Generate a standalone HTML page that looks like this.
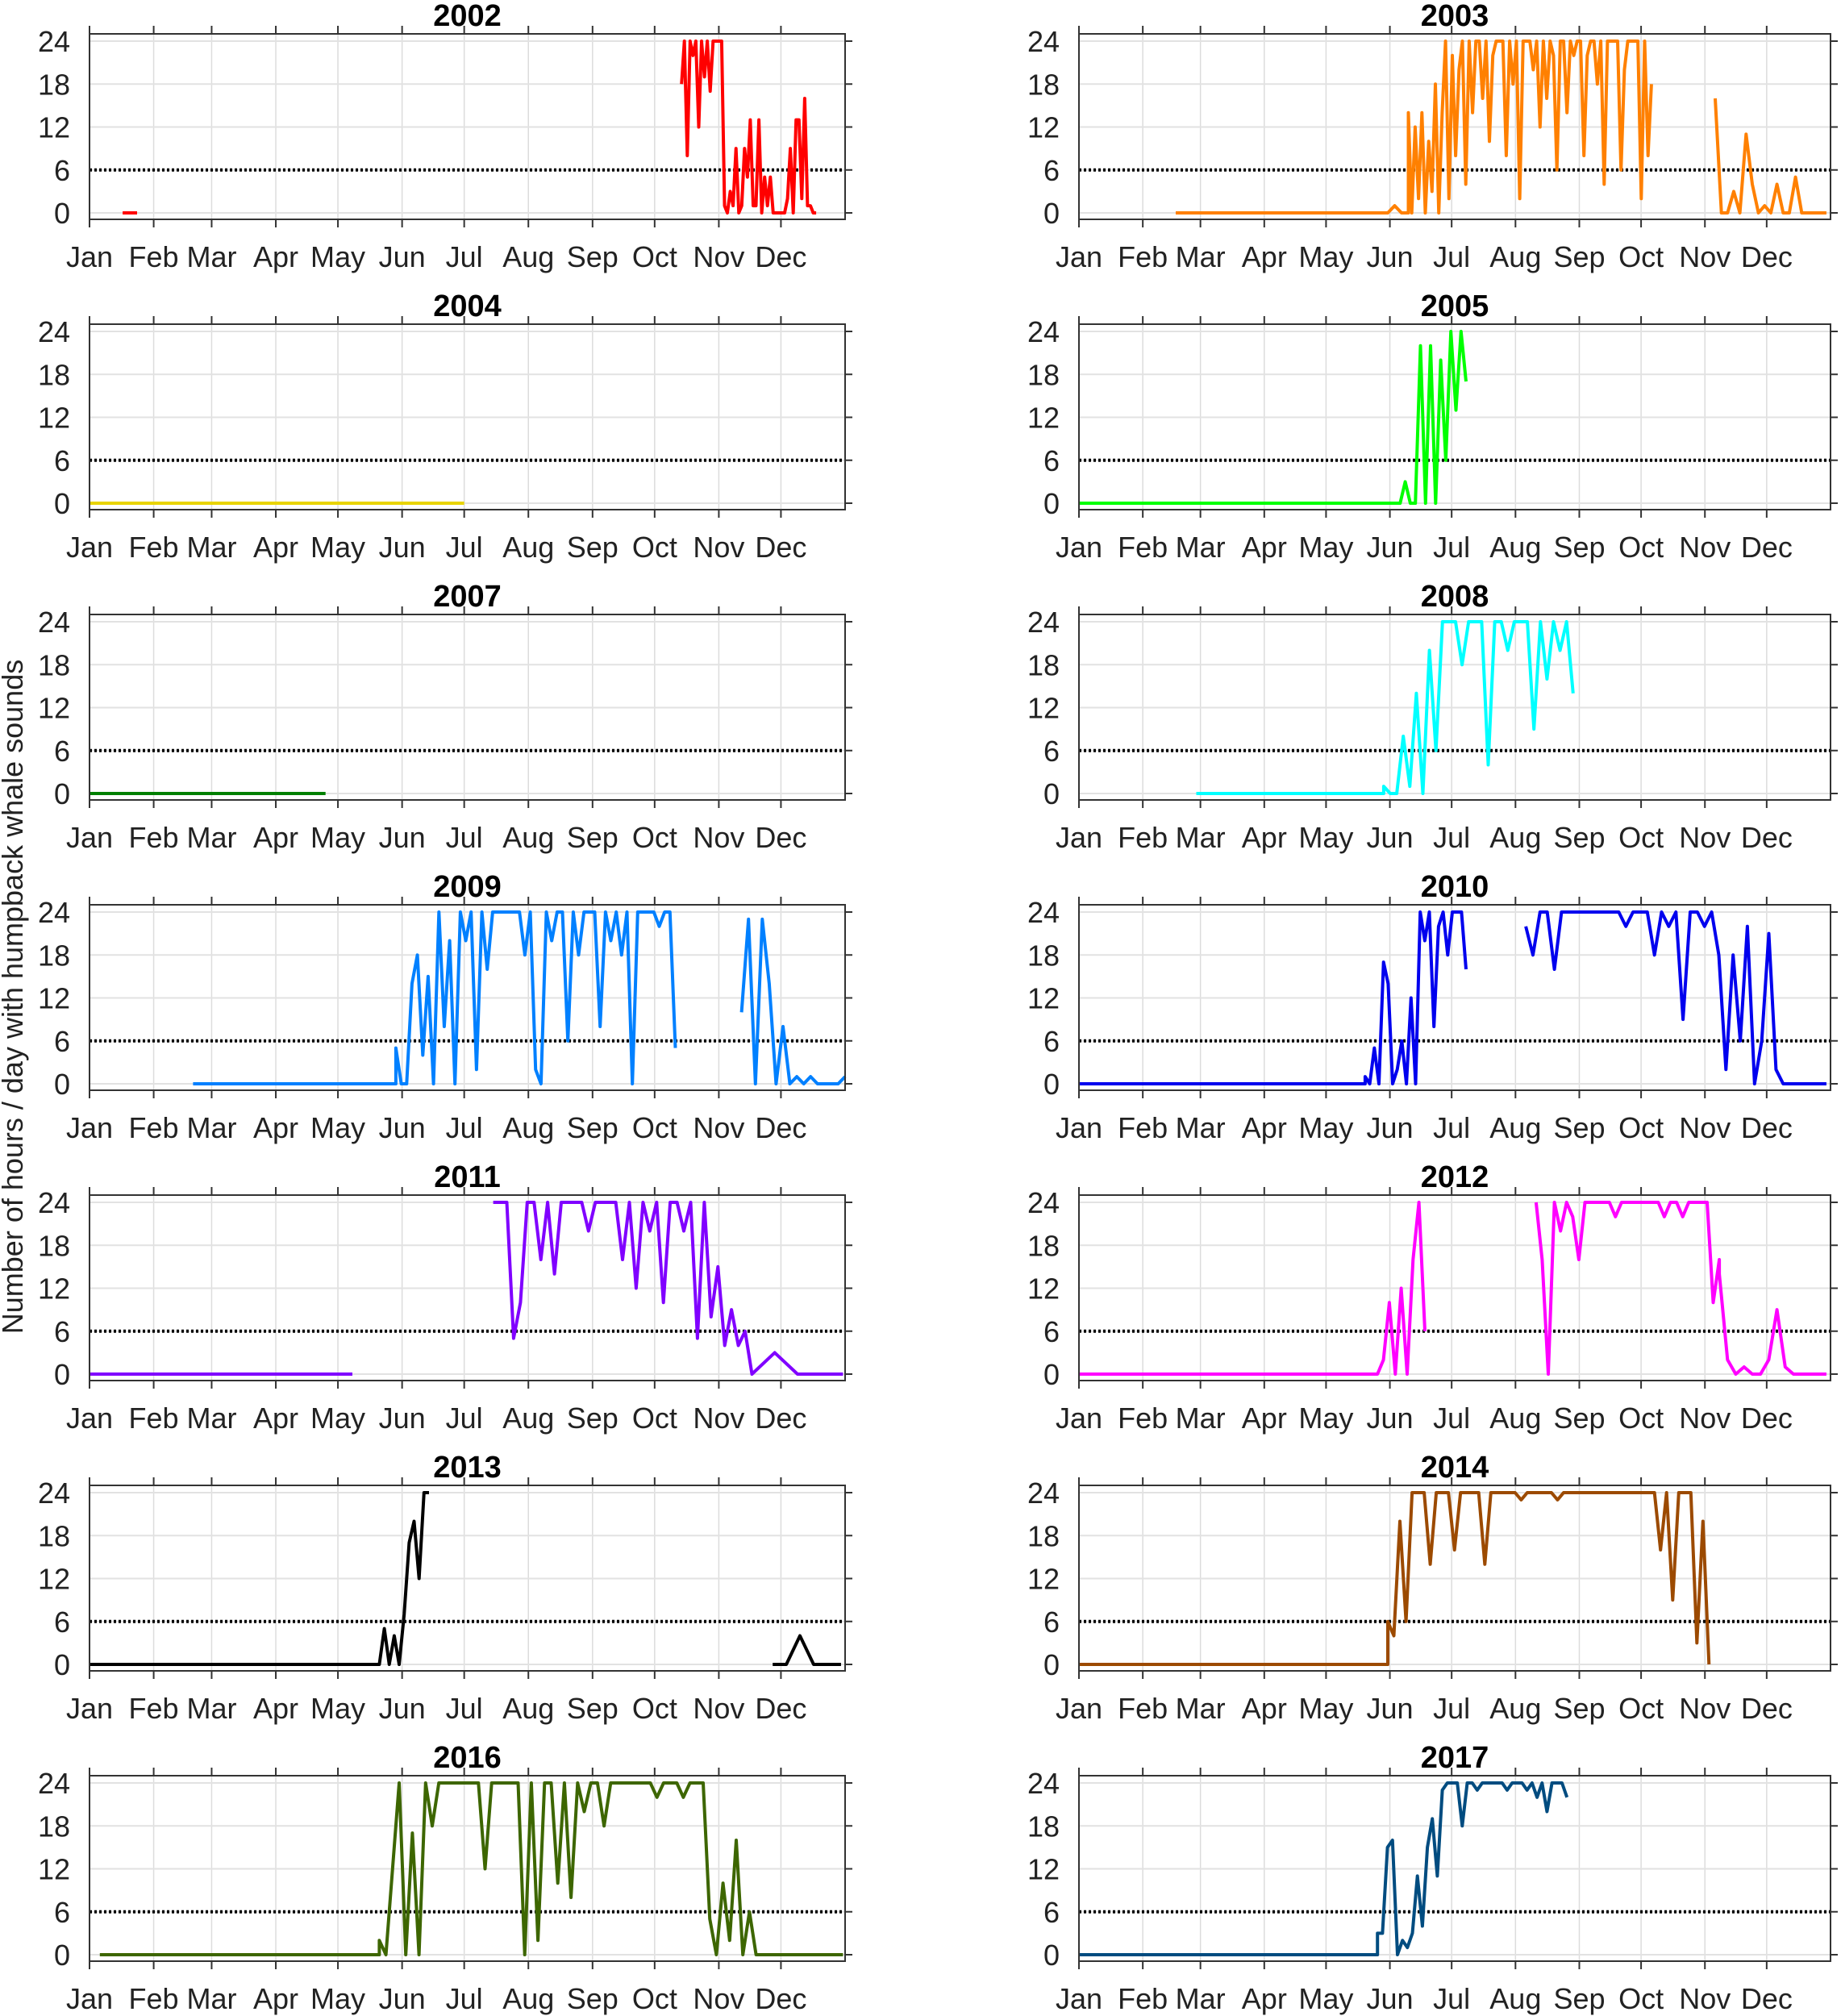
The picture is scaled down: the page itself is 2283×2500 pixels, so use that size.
<!DOCTYPE html>
<html><head><meta charset="utf-8"><style>
html,body{margin:0;padding:0;background:#fff;}
svg{display:block;font-family:"Liberation Sans",Arial,sans-serif;}
</style></head><body>
<svg id="s" width="2283" height="2500" viewBox="0 0 2283 2500" xmlns="http://www.w3.org/2000/svg">
<text x="0" y="0" transform="translate(28,1236) rotate(-90)" text-anchor="middle" font-size="36" fill="#222">Number of hours / day with humpback whale sounds</text>
</svg>
<script>
const S=document.getElementById('s');
const NS='http://www.w3.org/2000/svg';
function el(t,a,txt){const e=document.createElementNS(NS,t);for(const k in a)e.setAttribute(k,a[k]);if(txt!==undefined)e.textContent=txt;S.appendChild(e);return e;}
const months=['Jan','Feb','Mar','Apr','May','Jun','Jul','Aug','Sep','Oct','Nov','Dec'];
const mdays=[0,31,59,90,120,151,181,212,243,273,304,334];
function seg(a,b,v){const n=v.length,r=[];for(let i=0;i<n;i++){r.push([a+(b-a)*(n>1?i/(n-1):0),v[i]]);}return r;}
const panels=[
['2002',0,0,'#ff0000',[seg(16,23,[0,0]),seg(286,351,[18,24,8,24,22,24,12,24,19,24,17,24,24,24,24,1,0,3,1,9,0,1,9,5,13,1,1,13,0,5,1,5,0,0,0,0,0,2,9,0,13,13,2,16,1,1,0,0])]],
['2003',1,0,'#ff8000',[seg(47,150,[0,0]).concat(seg(150,160,[0,1,0,0])).concat(seg(160,278,[14,0,12,2,14,0,10,3,18,0,14,24,2,22,8,20,24,4,24,14,24,24,16,24,10,22,24,24,24,8,24,18,24,2,24,24,24,20,24,12,24,16,24,22,6,24,24,14,24,22,24,24,8,22,24,24,18,24,4,24,24,24,24,6,20,24,24,24,24,2,24,8,18])),seg(309,363,[16,0,0,3,0,11,4,0,1,0,4,0,0,5,0,0,0,0,0])]],
['2004',0,1,'#e8d400',[seg(0,181,[0,0])]],
['2005',1,1,'#00ff00',[seg(0,156,[0,0]).concat(seg(156,188,[0,3,0,0,22,0,22,0,20,6,24,13,24,17]))]],
['2007',0,2,'#008000',[seg(0,114,[0,0])]],
['2008',1,2,'#00ffff',[seg(57,148,[0,0]).concat(seg(148,240,[1,0,0,8,1,14,0,20,6,24,24,24,18,24,24,24,4,24,24,20,24,24,24,9,24,16,24,20,24,14]))]],
['2009',0,3,'#0080ff',[seg(50,148,[0,0]).concat(seg(148,283,[5,0,0,14,18,4,15,0,24,8,20,0,24,20,24,2,24,16,24,24,24,24,24,24,18,24,2,0,24,20,24,24,6,24,18,24,24,24,8,24,20,24,18,24,0,24,24,24,24,22,24,24,5])),seg(315,365,[10,23,0,23,14,0,8,0,1,0,1,0,0,0,0,1])]],
['2010',1,3,'#0000ee',[seg(0,139,[0,0]).concat(seg(139,188,[1,0,5,0,17,14,0,2,6,0,12,0,24,20,24,8,22,24,18,24,24,24,16])),seg(217,342,[22,18,24,24,16,24,24,24,24,24,24,24,24,24,22,24,24,24,18,24,22,24,9,24,24,22,24,18,2,18,6,22,0,6,21,2,0]).concat(seg(342,363,[0,0]))]],
['2011',0,4,'#8000ff',[seg(0,127,[0,0]),seg(195,320,[24,24,24,5,10,24,24,16,24,14,24,24,24,24,20,24,24,24,24,16,24,12,24,20,24,10,24,24,20,24,5,24,8,15,4,9,4,6,0]).concat(seg(320,364,[0,3,0,0,0]))]],
['2012',1,4,'#ff00ff',[seg(0,145,[0,0]).concat(seg(145,168,[0,2,10,0,12,0,16,24,6])),seg(222,311,[24,16,0,24,20,24,22,16,24,24,24,24,24,22,24,24,24,24,24,24,24,22,24,24,22,24,24,24,24,10,16]).concat(seg(311,363,[14,2,0,1,0,0,2,9,1,0,0,0,0,0]))]],
['2013',0,5,'#000000',[seg(0,140,[0,0]).concat(seg(140,164,[0,5,0,4,0,7,17,20,12,24,24])),seg(330,363,[0,0,4,0,0,0])]],
['2014',1,5,'#9c4a00',[seg(0,150,[0,0]).concat(seg(150,306,[6,4,20,6,24,24,24,14,24,24,24,16,24,24,24,24,14,24,24,24,24,24,23,24,24,24,24,24,23,24,24,24,24,24,24,24,24,24,24,24,24,24,24,24,24,16,24,9,24,24,24,3,20,0]))]],
['2016',0,6,'#3d6600',[seg(5,140,[0,0]).concat(seg(140,322,[2,0,12,24,0,17,0,24,18,24,24,24,24,24,24,24,12,24,24,24,24,24,0,24,2,24,24,10,24,8,24,20,24,24,18,24,24,24,24,24,24,24,22,24,24,24,22,24,24,24,5,0,10,2,16,0,6,0])).concat(seg(322,364,[0,0]))]],
['2017',1,6,'#004c80',[seg(0,145,[0,0]).concat(seg(145,237,[3,3,15,16,0,2,1,3,11,4,15,19,11,23,24,24,24,18,24,24,23,24,24,24,24,24,23,24,24,24,23,24,22,24,20,24,24,24,22]))]]
];
for(const [title,c,r,col,series] of panels){
  const x0=c?1338:111, W=c?932:937, sx=W/365;
  const yb=264+360*r, ft=42+360*r, fb=272+360*r;
  const Y=h=>yb-h*8.875, X=d=>x0+d*sx;
  // grid
  for(const d of mdays) el('line',{x1:X(d),x2:X(d),y1:ft,y2:fb,stroke:'#dcdcdc','stroke-width':1.5});
  for(const h of [0,6,12,18,24]) el('line',{x1:x0,x2:x0+W,y1:Y(h),y2:Y(h),stroke:'#e2e2e2','stroke-width':2});
  // dotted
  el('line',{x1:x0,x2:x0+W,y1:Y(6),y2:Y(6),stroke:'#000','stroke-width':4,'stroke-dasharray':'3 3'});
  // series
  for(const s of series){el('polyline',{points:s.map(p=>X(p[0]).toFixed(1)+','+Y(p[1]).toFixed(1)).join(' '),fill:'none',stroke:col,'stroke-width':4,'stroke-linejoin':'round'});}
  // frame
  el('rect',{x:x0,y:ft,width:W,height:fb-ft,fill:'none',stroke:'#333','stroke-width':2});
  // ticks
  mdays.forEach((d,i)=>{
    el('line',{x1:X(d),x2:X(d),y1:ft-10,y2:ft,stroke:'#333','stroke-width':2});
    el('line',{x1:X(d),x2:X(d),y1:fb,y2:fb+10,stroke:'#333','stroke-width':2});
    el('text',{x:X(d),y:fb+59,'text-anchor':'middle','font-size':36,fill:'#222'},months[i]);
  });
  for(const h of [0,6,12,18,24]){
    el('line',{x1:x0+W,x2:x0+W+9,y1:Y(h),y2:Y(h),stroke:'#333','stroke-width':2});
    el('text',{x:x0-24,y:Y(h)+13,'text-anchor':'end','font-size':36,fill:'#222'},String(h));
  }
  el('text',{x:x0+W/2,y:ft-10,'text-anchor':'middle','font-size':38,'font-weight':'bold',fill:'#000'},title);
}
</script>
</body></html>
